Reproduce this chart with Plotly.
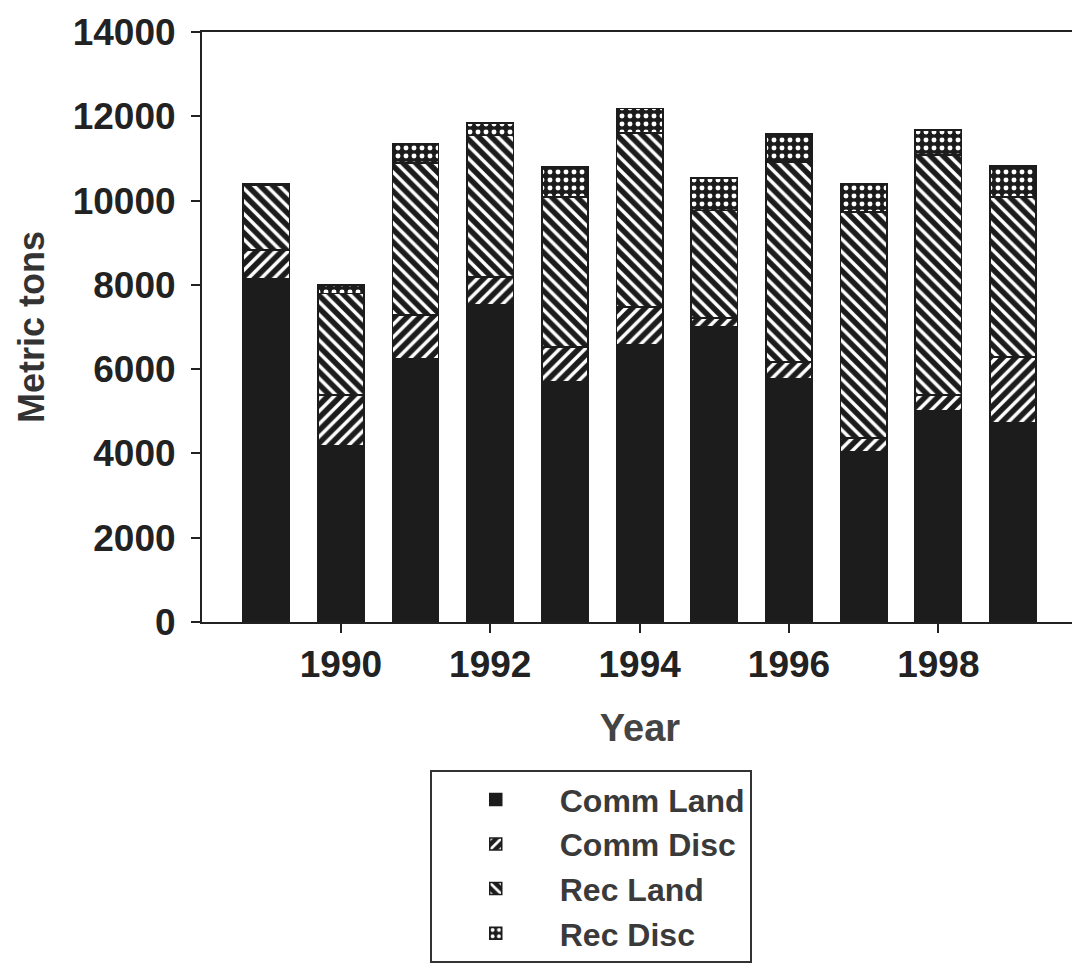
import plotly.graph_objects as go

years = [1989, 1990, 1991, 1992, 1993, 1994, 1995, 1996, 1997, 1998, 1999]
comm_land = [8150, 4180, 6240, 7520, 5690, 6570, 7000, 5765, 4030, 5010, 4720]
comm_disc = [680, 1210, 1040, 670, 830, 900, 210, 405, 335, 375, 1570]
rec_land = [1540, 2410, 3610, 3360, 3560, 4130, 2560, 4740, 5365, 5695, 3790]
rec_disc = [20, 200, 470, 290, 720, 590, 760, 670, 680, 590, 740]

x_ticks = [1990, 1992, 1994, 1996, 1998]
y_ticks = [0, 2000, 4000, 6000, 8000, 10000, 12000, 14000]

DARK = "#1c1c1c"
FONT = "Liberation Sans, Arial, sans-serif"

series = [
    ("Comm Land", comm_land, ""),
    ("Comm Disc", comm_disc, "/"),
    ("Rec Land", rec_land, "\\"),
    ("Rec Disc", rec_disc, "."),
]

fig = go.Figure()
for name, vals, shape in series:
    marker = dict(color=DARK, line=dict(color=DARK, width=1.5))
    if shape:
        marker["pattern"] = dict(shape=shape, fgcolor="white", bgcolor=DARK,
                                 fgopacity=1,
                                 size=9 if shape != "." else 8,
                                 solidity=0.38 if shape != "." else 0.3,
                                 fillmode="replace")
    fig.add_trace(go.Bar(x=years, y=vals, name=name, marker=marker, width=0.62))

# the page body adds an 8px offset, so margins are compensated
fig.update_layout(
    barmode="stack",
    width=1080, height=969,
    margin=dict(l=194, r=10, t=24, b=355, autoexpand=False),
    paper_bgcolor="white", plot_bgcolor="white",
    font=dict(family=FONT, size=34, color="#222222"),
    showlegend=True,
    legend=dict(
        x=0.26, y=-0.251, xanchor="left", yanchor="top",
        bordercolor="#333333", borderwidth=2, bgcolor="white",
        font=dict(family=FONT, size=32, color="#3a3a3a", weight="bold"),
        traceorder="normal", itemwidth=118, tracegroupgap=0,
    ),
    bargap=0.38,
)
fig.update_xaxes(
    range=[1988.14, 1999.87],
    tickvals=x_ticks, ticktext=[str(v) for v in x_ticks],
    ticks="outside", ticklen=9, tickwidth=2, tickcolor="#222",
    showline=True, linecolor="#222", linewidth=2, mirror=True,
    showgrid=False, zeroline=False, automargin=False,
    tickfont=dict(family=FONT, size=37, color="#222", weight="bold"),
    title=dict(text="Year", font=dict(family=FONT, size=38, color="#444", weight="bold"), standoff=30),
)
fig.update_yaxes(
    range=[0, 14000],
    tickvals=y_ticks, ticktext=[str(v) for v in y_ticks],
    ticks="outside", ticklen=9, tickwidth=2, tickcolor="#222",
    showline=True, linecolor="#222", linewidth=2, mirror=True,
    showgrid=False, zeroline=False, automargin=False,
    tickfont=dict(family=FONT, size=37, color="#222", weight="bold"),
    ticklabelstandoff=8,
    title=dict(text="Metric tons", font=dict(family=FONT, size=36, color="#333", weight="bold"), standoff=17),
)

fig.write_html("out.html")
